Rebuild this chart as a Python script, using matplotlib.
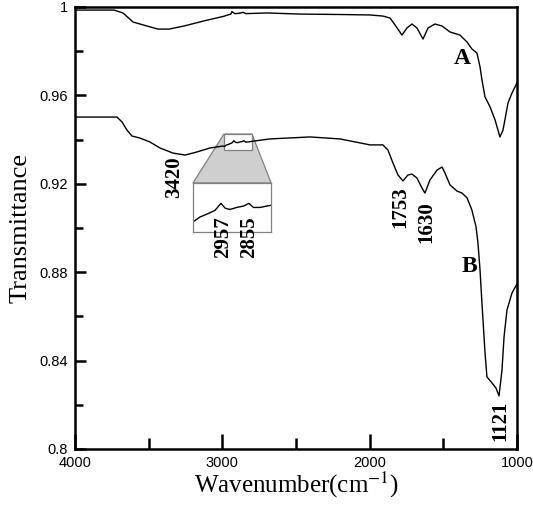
import matplotlib
matplotlib.use("Agg")
import matplotlib.pyplot as plt
from matplotlib.patches import Polygon, Rectangle
import numpy as np

plt.rcParams['mathtext.fontset'] = 'stix'

# curve A (upper spectrum)
wn_a = [4000, 3735, 3674, 3606, 3538, 3437, 3362, 3260, 3125, 2990, 2962, 2942,
        2935, 2915, 2880, 2860, 2840, 2697, 2473, 2201, 1998, 1910, 1862, 1828,
        1781, 1747, 1713, 1679, 1638, 1604, 1557, 1509, 1455, 1387, 1340, 1306,
        1272, 1251, 1238, 1217, 1183, 1149, 1116, 1095, 1061, 1034, 1007, 1000]
tr_a = [0.9986, 0.9986, 0.9973, 0.9932, 0.9919, 0.9900, 0.9900, 0.9914, 0.9937,
        0.9958, 0.9964, 0.9968, 0.9979, 0.9970, 0.9972, 0.9976, 0.9970, 0.9973,
        0.9968, 0.9966, 0.9964, 0.9959, 0.9950, 0.9919, 0.9873, 0.9905, 0.9923,
        0.9905, 0.9855, 0.9905, 0.9923, 0.9914, 0.9887, 0.9873, 0.9842, 0.9810,
        0.9792, 0.9729, 0.9670, 0.9593, 0.9548, 0.9489, 0.9412, 0.9443, 0.9566,
        0.9611, 0.9647, 0.9660]

# curve B (lower spectrum)
wn_b = [4000, 3715, 3681, 3647, 3613, 3559, 3491, 3423, 3335, 3253, 3172, 3084,
        2996, 2986, 2972, 2952, 2935, 2921, 2911, 2899, 2883, 2866, 2853, 2842,
        2826, 2801, 2677, 2405, 2201, 1998, 1910, 1876, 1842, 1808, 1774, 1740,
        1713, 1679, 1645, 1625, 1591, 1543, 1509, 1489, 1455, 1407, 1373, 1339,
        1306, 1278, 1265, 1251, 1238, 1217, 1204, 1170, 1143, 1122, 1102, 1088,
        1068, 1034, 1000]
tr_b = [0.9502, 0.9502, 0.9480, 0.9443, 0.9416, 0.9407, 0.9389, 0.9362, 0.9339,
        0.9330, 0.9344, 0.9362, 0.9371, 0.9369, 0.9375, 0.9380, 0.9385, 0.9395,
        0.9388, 0.9386, 0.9389, 0.9391, 0.9395, 0.9389, 0.9389, 0.9392, 0.9403,
        0.9412, 0.9403, 0.9376, 0.9376, 0.9353, 0.9294, 0.9240, 0.9213, 0.9240,
        0.9244, 0.9226, 0.9181, 0.9158, 0.9217, 0.9262, 0.9276, 0.9249, 0.9195,
        0.9167, 0.9158, 0.9136, 0.9081, 0.9005, 0.8932, 0.8810, 0.8661, 0.8434,
        0.8326, 0.8299, 0.8276, 0.8240, 0.8357, 0.8507, 0.8629, 0.8706, 0.8747]

# peak labels: text, x, y
peak_text = ['3420', '1753', '1630', '2957', '2855', '1121']
peak_x = [3328, 1794, 1618, 2996, 2819, 1116]
peak_y = [0.9231, 0.9095, 0.9027, 0.8959, 0.8959, 0.8127]

# zoomed region and the box where it is shown
zoom_x = [2989, 2799]
zoom_y = [0.9353, 0.9425]
box_x = [3199, 2669]
box_y = [0.8982, 0.9204]

yticks = [0.8, 0.84, 0.88, 0.92, 0.96, 1.0]
ytick_labels = ['0.8', '0.84', '0.88', '0.92', '0.96', '1']
xticks = [4000, 3000, 2000, 1000]

fig = plt.figure(figsize=(5.33, 5.07), dpi=100)
ax = fig.add_axes([0.1407, 0.1144, 0.8293, 0.8718])

ax.plot(wn_a, tr_a, color='black', lw=1.0, zorder=3)
ax.plot(wn_b, tr_b, color='black', lw=1.0, zorder=3)

ax.set_xlim(4000, 1000)
ax.set_ylim(0.8, 1.0)

# gray connector and small frame
poly = Polygon([(zoom_x[0], zoom_y[1]), (zoom_x[1], zoom_y[1]),
                (box_x[1], box_y[1]), (box_x[0], box_y[1])],
               closed=True, facecolor='#cfcfcf', edgecolor='#808080', lw=0.9, zorder=1)
ax.add_patch(poly)
rect = Rectangle((zoom_x[1], zoom_y[0]), zoom_x[0] - zoom_x[1], zoom_y[1] - zoom_y[0],
                 facecolor='white', edgecolor='#808080', lw=0.9, zorder=2)
ax.add_patch(rect)

# inset with magnified curve
fx0 = (4000 - box_x[0]) / 3000
fx1 = (4000 - box_x[1]) / 3000
fy0 = (box_y[0] - 0.8) / 0.2
fy1 = (box_y[1] - 0.8) / 0.2
axin = ax.inset_axes([fx0, fy0, fx1 - fx0, fy1 - fy0], zorder=4)
axin.plot(wn_b, tr_b, color='black', lw=1.0)
axin.set_xlim(zoom_x[0], zoom_x[1])
axin.set_ylim(zoom_y[0], zoom_y[1])
axin.set_xticks([])
axin.set_yticks([])
for s in axin.spines.values():
    s.set_color('#808080')
    s.set_linewidth(0.9)

for t, x, y in zip(peak_text, peak_x, peak_y):
    ax.text(x, y, t, rotation=90, ha='center', va='center', fontsize=15,
            fontweight='bold', family='Liberation Serif', zorder=6)

ax.text(1373, 0.9765, 'A', ha='center', va='center', fontsize=17,
        fontweight='bold', family='Liberation Serif')
ax.text(1326, 0.8828, 'B', ha='center', va='center', fontsize=17,
        fontweight='bold', family='Liberation Serif')

# axes styling
for s in ax.spines.values():
    s.set_linewidth(1.8)
ax.set_xticks(xticks)
ax.set_xticklabels([str(v) for v in xticks])
ax.set_xticks([3500, 2500, 1500], minor=True)
ax.set_yticks(yticks)
ax.set_yticklabels(ytick_labels)
ax.set_yticks([0.82, 0.86, 0.90, 0.94, 0.98], minor=True)
ax.tick_params(axis='x', which='major', direction='in', length=10.5, width=1.8, pad=5)
ax.tick_params(axis='x', which='minor', direction='in', length=7.8, width=1.8)
ax.tick_params(axis='y', which='major', direction='in', length=7.8, width=1.8, pad=5)
ax.tick_params(axis='y', which='minor', direction='in', length=5.8, width=1.8)
for lab in ax.get_xticklabels() + ax.get_yticklabels():
    lab.set_family('Liberation Sans')
    lab.set_fontsize(10.5)

ax.set_xlabel(r'Wavenumber(cm$^{-1}$)', family='Liberation Serif', fontsize=18, labelpad=0)
ax.set_ylabel('Transmittance', family='Liberation Serif', fontsize=19, labelpad=6)

fig.savefig('out.png', dpi=100)
